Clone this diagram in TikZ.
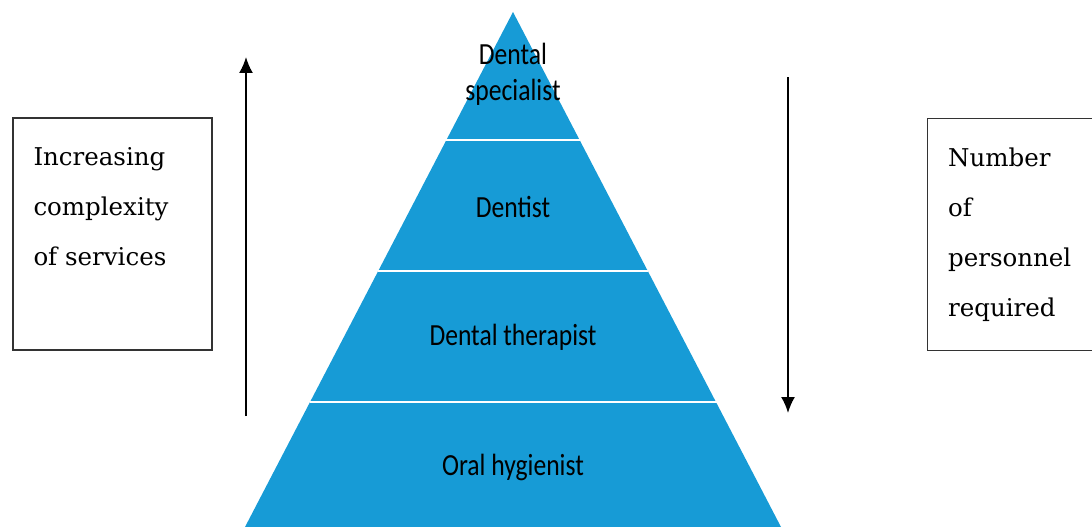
\documentclass[tikz,border=0pt]{standalone}
\usepackage{fontspec}
\newfontfamily\carlito{Carlito}
\newfontfamily\dejaserif{DejaVu Serif}
\usepackage{tikz}
\usetikzlibrary{positioning,arrows.meta}
\definecolor{pyrblue}{RGB}{23,155,214}

\begin{document}
\begin{tikzpicture}[x=1pt,y=-1pt,
  tier/.style={font=\carlito\fontsize{25.6}{30}\selectfont, inner sep=0pt},
  sidebox/.style={draw=black!80, line width=1.4pt, minimum width=199pt, minimum height=232pt, inner sep=0pt},
  sidetext/.style={font=\dejaserif\fontsize{24.5}{50}\selectfont, align=left, inner sep=0pt, anchor=north west},
  trend/.style={line width=1.8pt, -{Latex[length=16pt,width=14pt]}}]
\useasboundingbox (0,0) rectangle (1092,527);

% pyramid
\fill[pyrblue] (513,12) -- (781,527) -- (245,527) -- cycle;
\draw[white, line width=1.8pt] (446,140) -- (580,140);
\draw[white, line width=1.8pt] (378,271) -- (648,271);
\draw[white, line width=1.8pt] (310,402) -- (717,402);

\node[tier] (spec) at (513,75) {\scalebox{1}[1.2]{\begin{tabular}{@{}c@{}}Dental\\ specialist\end{tabular}}};
\node[tier] (dentist) at (513,207) {\scalebox{1}[1.2]{Dentist}};
\node[tier] (therapist) at (513,337) {\scalebox{1}[1.2]{Dental therapist}};
\node[tier] (hygienist) at (513,467) {\scalebox{1}[1.2]{Oral hygienist}};

% side boxes
\node[sidebox] (complexity) at (112.5,234) {};
\node[sidetext] (complexitytext) at ([xshift=21pt,yshift=-30pt]complexity.north west) {Increasing\\complexity\\of services};
\node[sidebox, minimum width=180pt, anchor=north west] (personnel) at (927,118) {};
\node[sidetext] (personneltext) at ([xshift=21pt,yshift=-30pt]personnel.north west) {Number\\of\\personnel\\required};

% arrows
\coordinate (upfrom) at (246,416);
\coordinate (upto) at (246,57);
\coordinate (downfrom) at (788,77);
\coordinate (downto) at (788,413);
\draw[trend] (upfrom) -- (upto);
\draw[trend] (downfrom) -- (downto);
\end{tikzpicture}
\end{document}
